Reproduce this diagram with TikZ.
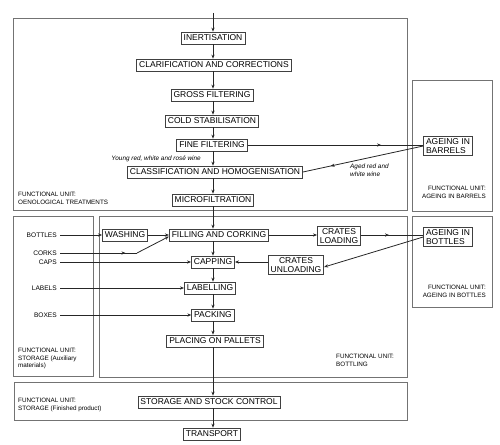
\documentclass[tikz,border=0pt]{standalone}
\usepackage{fontspec}
\setmainfont{Liberation Sans}
\usetikzlibrary{decorations.markings,arrows.meta}
\begin{document}
\begin{tikzpicture}[x=1pt,y=-1pt,
 proc/.style={draw=black!75, line width=0.7pt, font=\fontsize{8.5}{9}\selectfont, inner xsep=2.5pt, inner ysep=0pt, minimum height=12pt, fill=white},
 proc2/.style={proc, align=center, font=\fontsize{8.5}{9.5}\selectfont, inner ysep=1.5pt},
 unit/.style={draw=black!55, line width=0.8pt},
 ulabel/.style={font=\fontsize{6.3}{7.6}\selectfont, align=left, inner sep=0pt},
 ital/.style={font=\fontsize{6.4}{7.6}\selectfont\itshape, inner sep=0pt, align=left},
 inlabel/.style={font=\fontsize{6.6}{7.6}\selectfont, inner sep=3pt, anchor=east},
 conn/.style={draw=black!85, line width=0.8pt},
 arr/.style={conn, -{Stealth[length=4pt,width=3.2pt]}},
 midarr/.style={conn, postaction={decorate}, decoration={markings, mark=at position #1 with {\arrow{Stealth[length=4pt,width=3.2pt]}}}},
]
\useasboundingbox (0,0) rectangle (500,444);

% functional unit boxes
\draw[unit] (13,18) rectangle (407,210);
\draw[unit] (412,80) rectangle (492,211);
\draw[unit] (13,216) rectangle (93,376);
\draw[unit] (99,216) rectangle (407,377);
\draw[unit] (412,216) rectangle (492,307);
\draw[unit] (14,382) rectangle (407,420);

\node[ulabel, anchor=north west] (fu1) at (18,192) {FUNCTIONAL UNIT:\\OENOLOGICAL TREATMENTS};
\node[ulabel, anchor=north east, align=right] (fu2) at (486,186) {FUNCTIONAL UNIT:\\AGEING IN BARRELS};
\node[ulabel, anchor=north east, align=right] (fu3) at (486,285) {FUNCTIONAL UNIT:\\AGEING IN BOTTLES};
\node[ulabel, anchor=north west] (fu4) at (18,348) {FUNCTIONAL UNIT:\\STORAGE (Auxiliary\\materials)};
\node[ulabel, anchor=north west] (fu5) at (336,354) {FUNCTIONAL UNIT:\\BOTTLING};
\node[ulabel, anchor=north west] (fu6) at (18,398) {FUNCTIONAL UNIT:\\STORAGE (Finished product)};

% process nodes
\node[proc] (inert) at (213,38) {INERTISATION};
\node[proc] (clar) at (214,65) {CLARIFICATION AND CORRECTIONS};
\node[proc] (gross) at (212,95) {GROSS FILTERING};
\node[proc] (cold) at (212,121) {COLD STABILISATION};
\node[proc] (fine) at (212,145) {FINE FILTERING};
\node[proc] (class) at (215,172) {CLASSIFICATION AND HOMOGENISATION};
\node[proc] (micro) at (213,200) {MICROFILTRATION};
\node[proc2, align=left] (barrels) at (448,146) {AGEING IN\\BARRELS};

\node[proc] (wash) at (125,235) {WASHING};
\node[proc] (fill) at (219,235) {FILLING AND CORKING};
\node[proc2] (cload) at (339,236) {CRATES\\LOADING};
\node[proc2, align=left] (abottles) at (448,237) {AGEING IN\\BOTTLES};
\node[proc2] (cunload) at (296,265) {CRATES\\UNLOADING};
\node[proc] (cap) at (213,262) {CAPPING};
\node[proc] (lab) at (210,288) {LABELLING};
\node[proc] (pack) at (213,315) {PACKING};
\node[proc] (pal) at (215,341) {PLACING ON PALLETS};
\node[proc] (store) at (209,402) {STORAGE AND STOCK CONTROL};
\node[proc] (trans) at (212,434) {TRANSPORT};

% input labels
\node[inlabel] (bottles) at (60,235) {BOTTLES};
\node[inlabel] (corks) at (60,253) {CORKS};
\node[inlabel] (caps) at (60,262) {CAPS};
\node[inlabel] (labels) at (60,288) {LABELS};
\node[inlabel] (boxes) at (60,315) {BOXES};

\node[ital, anchor=east] (young) at (201,159) {Young red, white and rosé wine};
\node[ital, anchor=north west] (aged) at (350,164) {Aged red and\\white wine};

% main flow
\coordinate (start) at (213,13);
\draw[arr] (start) -- (inert.north);
\draw[arr] (inert.south) -- (inert.south |- clar.north);
\draw[arr] (inert.south |- clar.south) -- (inert.south |- gross.north);
\draw[arr] (inert.south |- gross.south) -- (inert.south |- cold.north);
\draw[arr] (inert.south |- cold.south) -- (inert.south |- fine.north);
\draw[arr] (inert.south |- fine.south) -- (inert.south |- class.north);
\draw[arr] (inert.south |- class.south) -- (inert.south |- micro.north);
\draw[arr] (micro.south) -- (micro.south |- fill.north);
\draw[arr] (cap.north |- fill.south) -- (cap.north);
\draw[arr] (cap.south) -- (cap.south |- lab.north);
\draw[arr] (cap.south |- lab.south) -- (cap.south |- pack.north);
\draw[arr] (pack.south) -- (pack.south |- pal.north);
\draw[arr] (pack.south |- pal.south) -- (pack.south |- store.north);
\draw[arr] (pack.south |- store.south) -- (pack.south |- trans.north);

% barrels loop
\draw[midarr=0.76] (fine.east) -- (fine.east -| barrels.west);
\draw[midarr=0.77] (barrels.west) -- (class.east);

% bottling
\draw[arr] (bottles.east) -- (wash.west);
\draw[arr] (wash.east) -- (fill.west);
\coordinate (kink) at (137,253);
\draw[midarr=0.85] (corks.east) -- (kink);
\draw[arr] (kink) -- ([yshift=-1.5pt]fill.west);
\draw[arr] (caps.east) -- (cap.west);
\draw[arr] (labels.east) -- (lab.west);
\draw[arr] (boxes.east) -- (pack.west);
\draw[arr] (fill.east) -- (fill.east -| cload.west);
\draw[midarr=0.45] (fill.east -| cload.east) -- (fill.east -| abottles.west);
\draw[arr] (abottles.west) -- ([yshift=-2pt]cunload.east);
\draw[arr] (cunload.west |- cap.east) -- (cap.east);
\end{tikzpicture}
\end{document}
